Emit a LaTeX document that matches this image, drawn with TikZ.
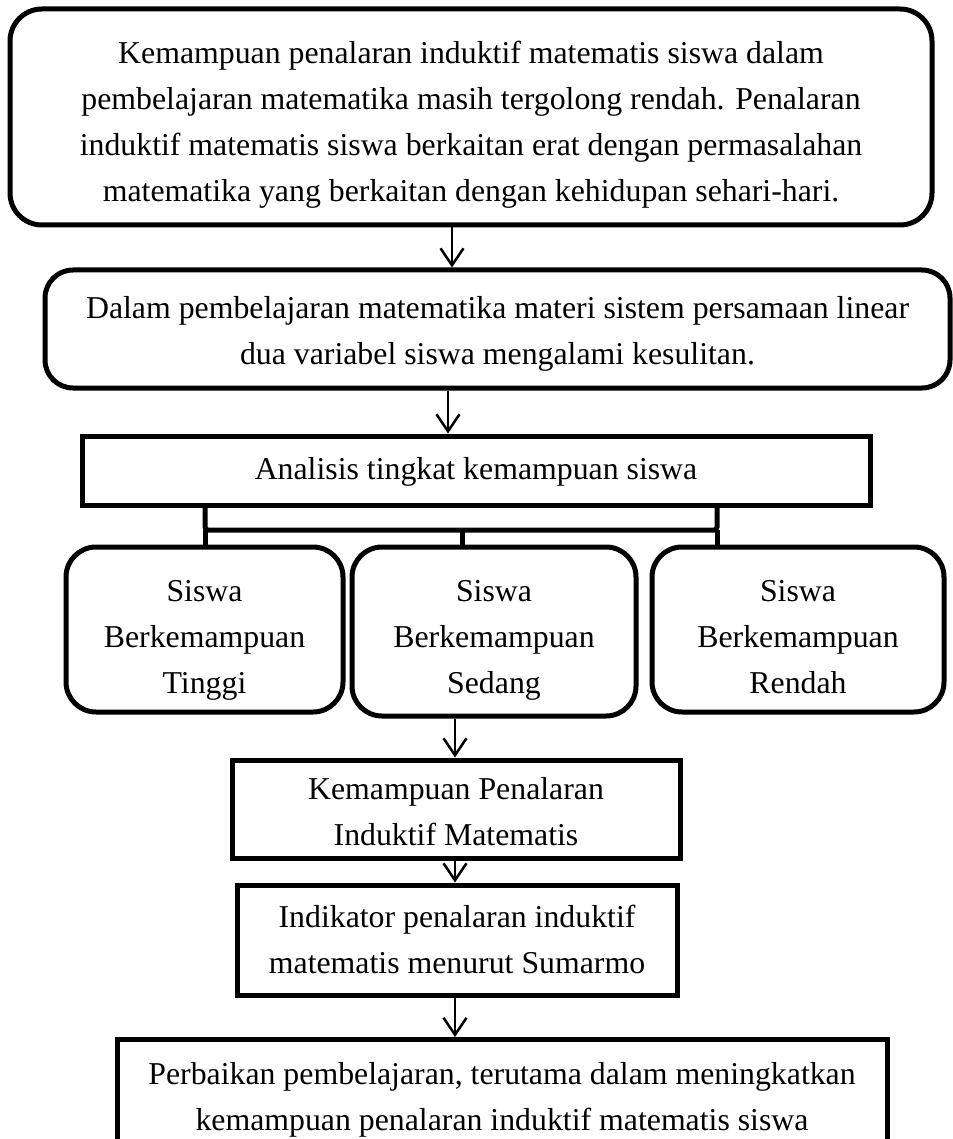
\documentclass[tikz,border=0pt]{standalone}
\usepackage{fontspec}
\setmainfont{Liberation Serif}
\usetikzlibrary{arrows.meta}
\tikzset{
  x=1pt, y=-1pt,
  txt/.style={font=\fontsize{31.8}{46}\selectfont, align=center, inner sep=0pt},
  rbox/.style={draw, line width=5pt, rounded corners=32pt, inner sep=0pt},
  sbox/.style={draw, line width=5pt, inner sep=0pt},
  arr/.style={line width=2.5pt, -{Straight Barb[length=17pt,width=23pt,line width=2.5pt]}},
  brace/.style={line width=5pt, rounded corners=3pt}
}
\begin{document}
\begin{tikzpicture}
\useasboundingbox (0,0) rectangle (952,1139);
% boxes
\node[rbox, minimum width=922, minimum height=216] (b1) at (471,117) {};
\node[rbox, rounded corners=28pt, minimum width=905, minimum height=118] (b2) at (497.5,329) {};
\node[sbox, minimum width=788, minimum height=69] (b3) at (476,470.5) {};
\node[rbox, rounded corners=30pt, minimum width=277, minimum height=165] (bA) at (204.5,629.5) {};
\node[rbox, rounded corners=30pt, minimum width=284, minimum height=169] (bB) at (494,631.5) {};
\node[rbox, rounded corners=30pt, minimum width=292, minimum height=165] (bC) at (798,629.5) {};
\node[sbox, minimum width=448, minimum height=98] (b4) at (456,809) {};
\node[sbox, minimum width=440, minimum height=110] (b5) at (457,940) {};
\node[sbox, minimum width=770, minimum height=105] (b6) at (502,1092) {};
% texts
\node[txt] (t1) at ([yshift=-8pt]b1.center)
  {Kemampuan penalaran induktif matematis siswa dalam\\
   pembelajaran matematika masih tergolong rendah. Penalaran\\
   induktif matematis siswa berkaitan erat dengan permasalahan\\
   matematika yang berkaitan dengan kehidupan sehari-hari.};
\node[txt] (t2) at ([yshift=-5pt]b2.center)
  {Dalam pembelajaran matematika materi sistem persamaan linear\\
   dua variabel siswa mengalami kesulitan.};
\node[txt] (t3) at ([yshift=-1pt]b3.center) {Analisis tingkat kemampuan siswa};
\node[txt] (tA) at ([yshift=-11pt]bA.center) {Siswa\\Berkemampuan\\Tinggi};
\node[txt] (tB) at ([yshift=-9pt]bB.center) {Siswa\\Berkemampuan\\Sedang};
\node[txt] (tC) at ([yshift=-8pt]bC.center) {Siswa\\Berkemampuan\\Rendah};
\node[txt] (t4) at ([yshift=-3pt]b4.center) {Kemampuan Penalaran\\Induktif Matematis};
\node[txt] (t5) at ([yshift=1pt]b5.center) {Indikator penalaran induktif\\matematis menurut Sumarmo};
\node[txt] (t6) at ([yshift=-8pt]b6.center)
  {Perbaikan pembelajaran, terutama dalam meningkatkan\\
   kemampuan penalaran induktif matematis siswa};
% arrow axes
\coordinate (a1) at (452,0);
\coordinate (a2) at (448,0);
\coordinate (a3) at (455,0);
% arrows
\draw[arr] (b1.south -| a1) -- (b2.north -| a1);
\draw[arr] (b2.south -| a2) -- (b3.north -| a2);
\draw[arr] (bB.south -| a3) -- (b4.north -| a3);
\draw[arr] (b4.south -| a3) -- (b5.north -| a3);
\draw[arr] (b5.south -| a3) -- (b6.north -| a3);
% bracket
\coordinate (c1) at (205,530);
\coordinate (c2) at (462,530);
\coordinate (c3) at (717,530);
\draw[brace] (b3.south -| c1) -- (c1) -- (c3) -- (b3.south -| c3);
\draw[line width=5pt] (c1) -- (bA.north -| c1);
\draw[line width=5pt] (c2) -- (bB.north -| c2);
\draw[line width=5pt] (c3) -- (bC.north -| c3);
\end{tikzpicture}
\end{document}
